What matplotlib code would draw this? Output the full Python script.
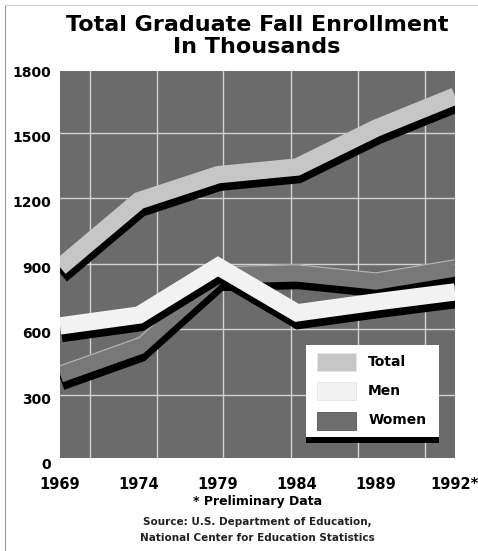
import numpy as np
import matplotlib
matplotlib.use("Agg")
import matplotlib.pyplot as plt
import matplotlib.patheffects as pe
import matplotlib.transforms as mtransforms
from matplotlib.patches import Rectangle
from matplotlib.lines import Line2D

# data (thousands)
YEARS = ["1969", "1974", "1979", "1984", "1989", "1992*"]
TOTAL = [885, 1190, 1309, 1344, 1522, 1669]
MEN = [616, 666, 889, 676, 726, 772]
WOMEN = [396, 525, 850, 859, 822, 882]
Y_TICKS = [0, 300, 600, 900, 1200, 1500, 1800]
SERIES = ["Total", "Men", "Women"]

BG = "#6b6b6b"
GRID = "#d2d2d2"
COLORS = {"Total": "#c6c6c6", "Men": "#f2f2f2", "Women": "#787878"}
BAND_LW = 12.5
SHADOW = (1.0, -5.5)
GRID_X = [0.38, 1.23, 2.06, 2.92, 3.77, 4.62]   # decorative vertical rules

fig = plt.figure(figsize=(4.78, 5.51), dpi=100)
ax = fig.add_axes([60 / 478, 1 - 458 / 551, 395 / 478, 387 / 551])
ax.set_facecolor(BG)
for s in ax.spines.values():
    s.set_visible(False)

x = np.arange(len(YEARS))
ax.set_xlim(0, len(YEARS) - 1)
ax.set_ylim(11, 1784)

for v in Y_TICKS[1:-1]:
    ax.axhline(v, color=GRID, lw=1.0, zorder=1)
for gx in GRID_X:
    ax.axvline(gx, color=GRID, lw=1.0, zorder=1)

shadow = pe.SimpleLineShadow(offset=SHADOW, shadow_color="black", alpha=1.0)
kw = dict(lw=BAND_LW, solid_joinstyle="miter", solid_capstyle="butt")
ax.plot(x, WOMEN, color=COLORS["Women"], zorder=3,
        path_effects=[shadow, pe.Normal(),
                      pe.Stroke(offset=(0, BAND_LW / 2 - 0.4), linewidth=0.8, foreground="#b5b5b5")],
        **kw)
ax.plot(x, MEN, color=COLORS["Men"], zorder=4, path_effects=[shadow, pe.Normal()], **kw)
ax.plot(x, TOTAL, color=COLORS["Total"], zorder=5, path_effects=[shadow, pe.Normal()], **kw)

# axis labels
ax.set_xticks(x, YEARS)
ax.set_yticks([])
ax.tick_params(axis="x", length=0, pad=13.5, labelsize=10.5)
for lab in ax.get_xticklabels():
    lab.set_fontweight("bold")
ytrans = mtransforms.offset_copy(ax.get_yaxis_transform(), fig=fig, x=-9, y=-5, units="dots")
for v in Y_TICKS:
    ax.text(0, v, str(v), transform=ytrans, ha="right", va="center",
            fontsize=10, fontweight="bold", clip_on=False)

# legend box drawn by hand (white panel with black drop bar)
ax.add_patch(Rectangle((0.623, 0.040), 0.336, 0.02, transform=ax.transAxes,
                       facecolor="black", edgecolor="none", zorder=6))
ax.add_patch(Rectangle((0.623, 0.054), 0.336, 0.238, transform=ax.transAxes,
                       facecolor="white", edgecolor="none", zorder=7))
sw_y = [0.225, 0.150, 0.073]
for name, yy in zip(SERIES, sw_y):
    ax.add_patch(Rectangle((0.651, yy), 0.098, 0.047, transform=ax.transAxes,
                           facecolor=COLORS[name] if name != "Women" else "#6e6e6e",
                           edgecolor="#e6e6e6" if name != "Women" else "#555555",
                           lw=0.6, zorder=8))
    ax.text(0.78, yy + 0.024, name, transform=ax.transAxes, ha="left", va="center",
            fontsize=10, fontweight="bold", zorder=9)

# titles and notes
fig.text(257 / 478, 1 - 36 / 551, "Total Graduate Fall Enrollment\nIn Thousands",
         ha="center", va="center", fontsize=16, fontweight="bold", linespacing=1.1)
fig.text(258 / 478, 1 - 502 / 551, "* Preliminary Data", ha="center", va="center",
         fontsize=9, fontweight="bold")
fig.text(257 / 478, 1 - 522 / 551, "Source: U.S. Department of Education,", ha="center",
         va="center", fontsize=7.5, fontweight="bold", color="#222222")
fig.text(257 / 478, 1 - 538 / 551, "National Center for Education Statistics", ha="center",
         va="center", fontsize=7.5, fontweight="bold", color="#222222")

# faint scan frame
fig.add_artist(Line2D([5 / 478, 5 / 478], [0, 1 - 5 / 551], transform=fig.transFigure,
                      color="#9a9a9a", lw=0.8))
fig.add_artist(Line2D([5 / 478, 1], [1 - 5 / 551, 1 - 5 / 551], transform=fig.transFigure,
                      color="#cfcfcf", lw=0.8))

fig.savefig("out.png", dpi=100, facecolor="white")
